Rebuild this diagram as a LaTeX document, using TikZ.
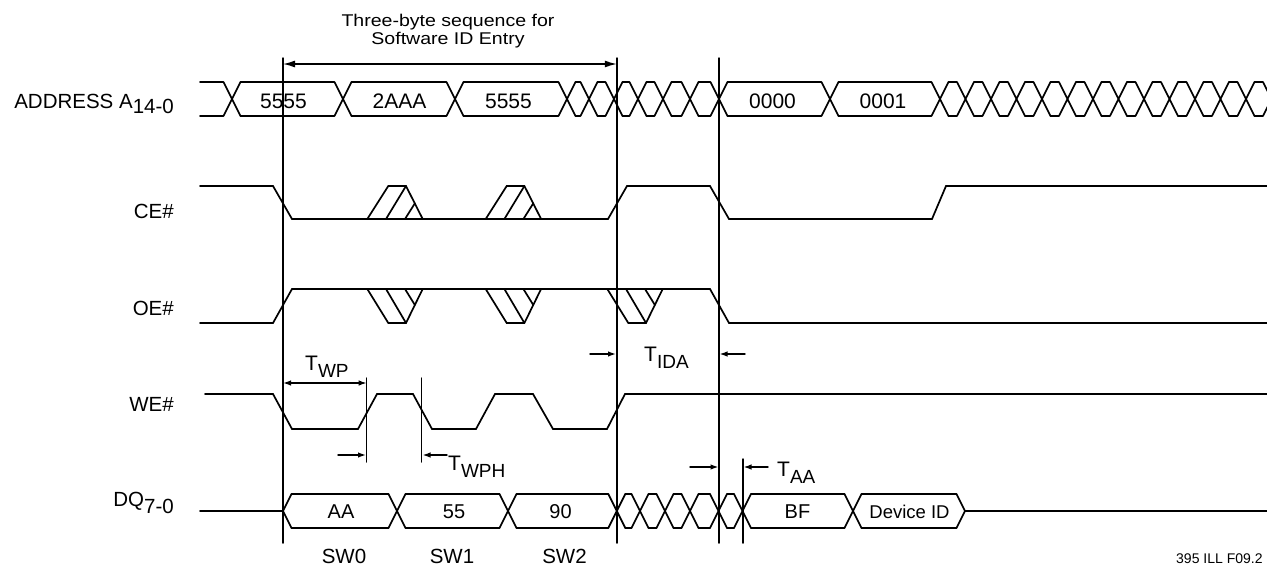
\documentclass[tikz,border=0pt]{standalone}
\usepackage{fontspec}
\setmainfont{Liberation Sans}
\newfontfamily\widesans{Liberation Sans}[FakeStretch=1.15]
\usetikzlibrary{arrows.meta}
\newcommand{\lowsub}[2][5pt]{\raisebox{-#1}{#2}}
\newcommand{\tname}[1]{{\fontsize{21}{24}\selectfont T}\raisebox{-7pt}{\fontsize{19}{22}\selectfont #1}}

\begin{document}
\begin{tikzpicture}[x=1pt,y=-1pt,line cap=round,
    sig/.style={line width=1.7pt},
    markline/.style={line width=1.5pt},
    lbl/.style={font=\fontsize{20.5}{24}\selectfont,inner sep=0pt,anchor=base east},
    val/.style={font=\fontsize{20.5}{24}\selectfont,inner sep=0pt,anchor=base},
    tlbl/.style={inner sep=0pt,anchor=base west},
    tarr/.style={line width=1.4pt,-{Latex[length=8pt,width=5.5pt]}}]
  \useasboundingbox (0,0) rectangle (1267,565);
  \def\bh{8.5}

  \node[lbl] (addr) at (174,108.3) {ADDRESS A\lowsub{14-0}};
  \node[lbl] (ce) at (174,218.3) {CE\#};
  \node[lbl] (oe) at (174,315) {OE\#};
  \node[lbl] (we) at (174,411.7) {WE\#};
  \node[lbl] (dq) at (174,506.7) {DQ\lowsub[6.5pt]{7-0}};

  \draw[sig] (200,82) -- (232-\bh,82) (200,116) -- (232-\bh,116)
    (232-\bh,82) -- (232+\bh,116) (232-\bh,116) -- (232+\bh,82);
  \foreach \xa/\xb in {232/343,343/455,455/567,567/589,589/614,614/638,638/663,663/690,690/719,719/830,830/940}
    \draw[sig] (\xa+\bh,82) -- (\xb-\bh,82) (\xa+\bh,116) -- (\xb-\bh,116)
      (\xb-\bh,82) -- (\xb+\bh,116) (\xb-\bh,116) -- (\xb+\bh,82);
  \foreach \k in {0,...,13} {
    \pgfmathsetmacro\xa{940+25.5*\k}
    \pgfmathsetmacro\xb{\xa+25.5}
    \draw[sig] (\xa+\bh,82) -- (\xb-\bh,82) (\xa+\bh,116) -- (\xb-\bh,116)
      (\xb-\bh,82) -- (\xb+\bh,116) (\xb-\bh,116) -- (\xb+\bh,82);
  }
  \node[val,font=\fontsize{21}{24}\selectfont] (a0) at (283.5,108.3) {5555};
  \node[val,font=\fontsize{21}{24}\selectfont] (a1) at (399.5,108.3) {2AAA};
  \node[val,font=\fontsize{21}{24}\selectfont] (a2) at (508.5,108.3) {5555};
  \node[val,font=\fontsize{21}{24}\selectfont] (a3) at (772.5,108.3) {0000};
  \node[val,font=\fontsize{21}{24}\selectfont] (a4) at (883,108.3) {0001};

  \draw[sig] (200,186) -- (273,186) -- (292,219) -- (608,219) -- (627,186) -- (710,186)
    -- (729,219) -- (932,219) -- (946,186) -- (1267,186);
  \foreach \p in {367.3,485.7} {
    \draw[sig] (\p,219) -- (\p+21,186) -- (\p+38.7,186) -- (\p+55.4,219);
    \draw[sig] (\p+18.7,219) -- (\p+38.7,186) (\p+37.7,219) -- (\p+47.6,203.3);
  }

  \draw[sig] (200,323) -- (273,323) -- (292,289) -- (710,289) -- (729,323) -- (1267,323);
  \foreach \p in {367.3,485.7,607.3} {
    \draw[sig] (\p,289) -- (\p+21,323) -- (\p+38.7,323) -- (\p+55.4,289);
    \draw[sig] (\p+18.7,289) -- (\p+38.7,323) (\p+37.7,289) -- (\p+47.6,305);
  }

  \draw[sig] (205,394) -- (273,394) -- (292,429) -- (358,429) -- (377,394) -- (413,394)
    -- (432,429) -- (476,429) -- (495,394) -- (533,394) -- (553,429) -- (607,429)
    -- (625,394) -- (1267,394);

  \draw[sig] (200,511) -- (283,511) -- (283+\bh,494) (283,511) -- (283+\bh,528);
  \foreach \xa/\xb in {283/397,397/508,508/616.8,616.8/640,640/665,665/690,690/718.5,718.5/742.5,742.5/853,853/965}
    \draw[sig] (\xa+\bh,494) -- (\xb-\bh,494) (\xa+\bh,528) -- (\xb-\bh,528);
  \foreach \c in {397,508,616.8,640,665,690,718.5,742.5,853}
    \draw[sig] (\c-\bh,494) -- (\c+\bh,528) (\c-\bh,528) -- (\c+\bh,494);
  \draw[sig] (965-\bh,494) -- (965,511) -- (965-\bh,528) (965,511) -- (1267,511);
  \node[val,font=\fontsize{20}{24}\selectfont] (d0) at (341,518.5) {AA};
  \node[val,font=\fontsize{20}{24}\selectfont] (d1) at (454,518.5) {55};
  \node[val,font=\fontsize{20}{24}\selectfont] (d2) at (560.5,518.5) {90};
  \node[val,font=\fontsize{20}{24}\selectfont] (d3) at (797.5,518.5) {BF};
  \node[val,font=\fontsize{18.5}{22}\selectfont] (d4) at (909.5,518.5) {Device ID};

  \coordinate (m1t) at (283,58);    \coordinate (m1b) at (283,543);
  \coordinate (m2t) at (616.8,58);  \coordinate (m2b) at (616.8,543);
  \coordinate (m3t) at (719,58);    \coordinate (m3b) at (719,543);
  \coordinate (m4t) at (743,459);   \coordinate (m4b) at (743,543);
  \coordinate (w1t) at (366.7,378); \coordinate (w1b) at (366.7,462);
  \coordinate (w2t) at (421.7,378); \coordinate (w2b) at (421.7,462);
  \foreach \m in {m1,m2,m3,m4,w1,w2}
    \draw[markline] (\m t) -- (\m b);

  \coordinate (seqL) at (283,64);
  \coordinate (seqR) at (616.8,64);
  \draw[line width=1.4pt,{Latex[length=12pt,width=7pt]}-{Latex[length=12pt,width=7pt]}] (seqL) -- (seqR);
  \node[font=\widesans\fontsize{17}{18.3}\selectfont,align=center,anchor=north,inner sep=0pt]
    (seq) at (448,14) {Three-byte sequence for\\Software ID Entry};

  \coordinate (wpL) at (283,383);   \coordinate (wpR) at (366.7,383);
  \draw[line width=1.4pt,{Latex[length=8pt,width=5.5pt]}-{Latex[length=8pt,width=5.5pt]}] (wpL) -- (wpR);
  \node[tlbl] (twp) at (305,370) {\tname{WP}};

  \coordinate (wpa) at (338,455);   \coordinate (wpb) at (366,455);
  \coordinate (wpha) at (447,455);  \coordinate (wphb) at (422.5,455);
  \draw[tarr] (wpa) -- (wpb);
  \draw[tarr] (wpha) -- (wphb);
  \node[tlbl] (twph) at (448,470) {\tname{WPH}};

  \coordinate (idaa) at (590,354);  \coordinate (idab) at (616,354);
  \coordinate (idac) at (745,354);  \coordinate (idad) at (719.5,354);
  \draw[tarr] (idaa) -- (idab);
  \draw[tarr] (idac) -- (idad);
  \node[tlbl] (tida) at (644,361.7) {\tname{IDA}};

  \coordinate (aaa) at (690,467);   \coordinate (aab) at (718.5,467);
  \coordinate (aac) at (768,467);   \coordinate (aad) at (743.5,467);
  \draw[tarr] (aaa) -- (aab);
  \draw[tarr] (aac) -- (aad);
  \node[tlbl] (taa) at (777,476) {\tname{AA}};

  \node[val] (sw0) at (344,563) {SW0};
  \node[val] (sw1) at (452,563) {SW1};
  \node[val] (sw2) at (564.5,563) {SW2};
  \node[tlbl,font=\fontsize{14}{17}\selectfont] (figid) at (1176,563) {395 ILL F09.2};
\end{tikzpicture}
\end{document}
